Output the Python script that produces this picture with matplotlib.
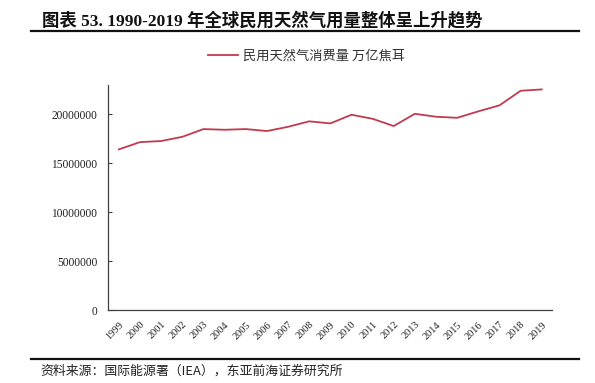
import matplotlib
matplotlib.use("Agg")
import matplotlib.pyplot as plt
from matplotlib.lines import Line2D

years = ["1999", "2000", "2001", "2002", "2003", "2004", "2005", "2006", "2007", "2008",
         "2009", "2010", "2011", "2012", "2013", "2014", "2015", "2016", "2017", "2018", "2019"]
consumption = [16430000, 17170000, 17280000, 17710000, 18500000, 18430000, 18500000,
               18300000, 18730000, 19290000, 19080000, 19960000, 19550000, 18810000,
               20060000, 19760000, 19650000, 20310000, 20920000, 22410000, 22550000]
series_name = "民用天然气消费量 万亿焦耳"
y_ticks = [0, 5000000, 10000000, 15000000, 20000000]
title = "图表 53. 1990-2019 年全球民用天然气用量整体呈上升趋势"
source = "资料来源：国际能源署（IEA），东亚前海证券研究所"

serif = ["Liberation Serif", "Noto Sans CJK SC", "DejaVu Sans"]
cjk = ["Noto Sans CJK SC", "Liberation Serif", "DejaVu Sans"]
line_color = "#C23A4E"
axis_color = "#404040"

fig = plt.figure(figsize=(5.95, 3.83), dpi=100)
W, H = 595, 383
ax = fig.add_axes([108.3 / W, 1 - 310.3 / H, (552.3 - 108.3) / W, (310.3 - 85) / H])

x = list(range(len(years)))
ax.plot(x, consumption, color=line_color, lw=1.3, solid_joinstyle="round")
ax.set_xlim(-0.5, len(years) - 0.5)
ax.set_ylim(0, 23000000)
ax.set_yticks(y_ticks)
ax.set_yticklabels([str(v) for v in y_ticks], family=serif, fontsize=8.3, color="#222222")
ax.set_xticks(x)
ax.set_xticklabels(years, family=serif, fontsize=7.5, color="#222222",
                   rotation=45, ha="right", rotation_mode="anchor")
ax.tick_params(axis="y", direction="in", length=3, width=0.8, color=axis_color, pad=8)
ax.tick_params(axis="x", length=0, pad=7)
for s in ["top", "right"]:
    ax.spines[s].set_visible(False)
for s in ["left", "bottom"]:
    ax.spines[s].set_color(axis_color)
    ax.spines[s].set_linewidth(0.9)

# legend
handle = Line2D([], [], color=line_color, lw=1.3)
fig.legend([handle], [series_name], loc="center", bbox_to_anchor=(306.5 / W, 1 - 56 / H),
           frameon=False, handlelength=2.3, handletextpad=0.35,
           prop={"family": cjk, "size": 9.5, "weight": "light"}, labelcolor="#333333")

# title
fig.text(41.7 / W, 1 - 20 / H, title, family=serif, fontsize=12.5, fontweight="bold",
         va="center", ha="left", color="#111111")
fig.add_artist(Line2D([30.7 / W, 579 / W], [1 - 30.7 / H, 1 - 30.7 / H],
                      color="#111111", lw=1.6, transform=fig.transFigure))
fig.add_artist(Line2D([30.7 / W, 579 / W], [1 - 359.3 / H, 1 - 359.3 / H],
                      color="#111111", lw=1.6, transform=fig.transFigure))
fig.text(40 / W, 1 - 371 / H, source, family=cjk, fontsize=9.3, fontweight="light",
         va="center", ha="left", color="#222222")

fig.savefig("out.png", dpi=100)
